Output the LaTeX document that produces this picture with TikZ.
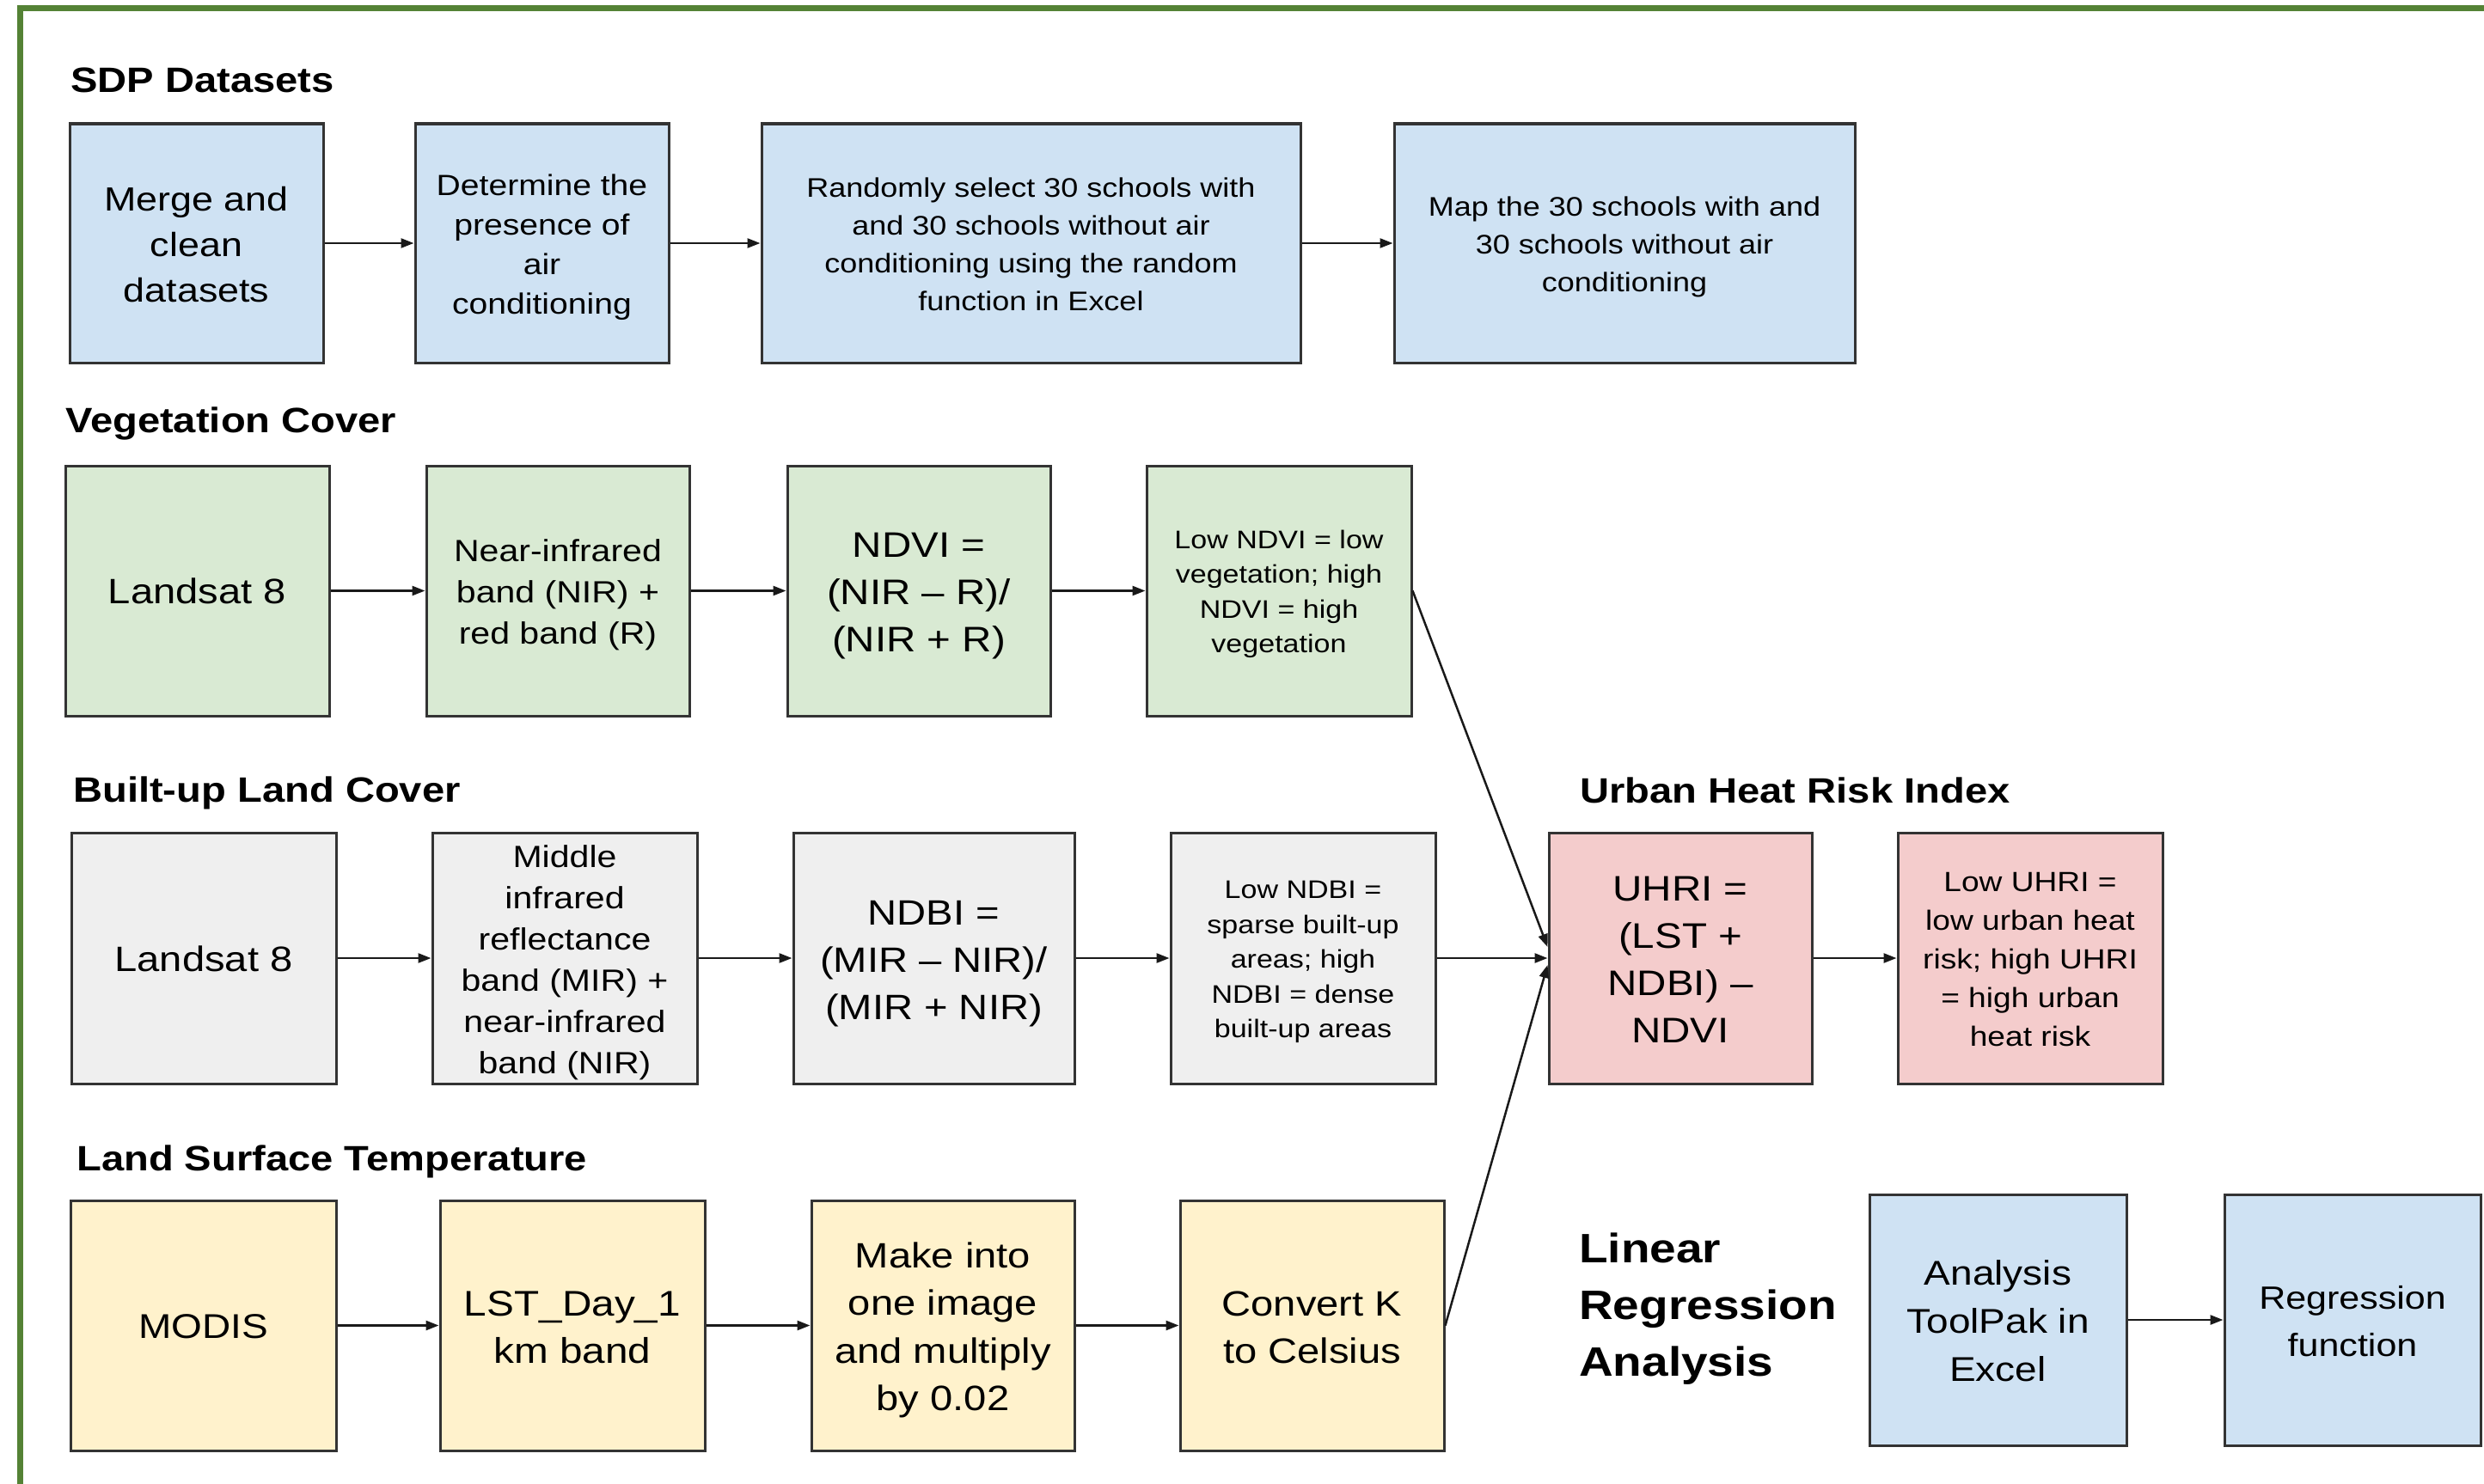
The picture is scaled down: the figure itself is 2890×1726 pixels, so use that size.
\documentclass[tikz,border=0pt]{standalone}
\usepackage{fontspec}
\setmainfont{Liberation Sans}
\newfontfamily\bodyf[FakeStretch=1.15]{Liberation Sans}
\usetikzlibrary{arrows.meta,calc}
\definecolor{frameg}{RGB}{84,130,53}
\definecolor{cblue}{HTML}{CFE2F3}
\definecolor{cgreen}{HTML}{D9EAD3}
\definecolor{cgray}{HTML}{EFEFEF}
\definecolor{cpink}{HTML}{F4CCCC}
\definecolor{cyellow}{HTML}{FFF2CC}
\definecolor{bord}{HTML}{333333}
\newcommand\setfs[2]{\fontsize{#1pt}{#2pt}\selectfont}
\newcommand\topst{\rule{0pt}{1.0em}}
\begin{document}
\begin{tikzpicture}[x=1pt,y=-1pt,
  box/.style={draw=bord, line width=3pt, inner sep=0pt, align=center,
    execute at begin node={\rule{0pt}{0.95em}},
    execute at end node={\rule[-0.212em]{0pt}{0.212em}}},
  sz/.style 2 args={font=\bodyf\setfs{#1}{#2}},
  arr/.style={-{Triangle[length=15pt,width=11pt]}, line width=2.5pt, draw=black!90},
  ttl/.style={font=\bodyf\bfseries\setfs{41}{49}, anchor=base west, inner sep=0pt},
  frame/.style={draw=frameg, line width=7pt, line join=miter}]
\useasboundingbox (0,0) rectangle (2890,1726);
\fill[white] (0,0) rectangle (2890,1726);
\draw[frame] (23.5,1800) -- (23.5,10) -- (2950,10);

% titles
\node[ttl] (t1) at (82,108) {SDP Datasets};
\node[ttl] (t2) at (76,503) {Vegetation Cover};
\node[ttl] (t3) at (85,933) {Built-up Land Cover};
\node[ttl] (t4) at (89,1362) {Land Surface Temperature};
\node[ttl] (t5) at (1838,934) {Urban Heat Risk Index};

% row 1
\node[box, fill=cblue, minimum width=295pt, minimum height=278pt, sz={39}{53}] (s1) at (228.5,283) {\topst Merge and\\clean\\datasets};
\node[box, fill=cblue, minimum width=295pt, minimum height=278pt, sz={34}{46}] (s2) at (630.5,283) {\topst Determine the\\presence of\\air\\conditioning};
\node[box, fill=cblue, minimum width=627pt, minimum height=278pt, sz={31.3}{44}] (s3) at (1199.5,283) {\topst Randomly select 30 schools with\\and 30 schools without air\\conditioning using the random\\function in Excel};
\node[box, fill=cblue, minimum width=536pt, minimum height=278pt, sz={31.3}{44}] (s4) at (1890,283) {\topst Map the 30 schools with and\\30 schools without air\\conditioning};

% row 2
\node[box, fill=cgreen, minimum width=307pt, minimum height=291pt, sz={41}{55}] (v1) at (229.5,687.5) {Landsat 8};
\node[box, fill=cgreen, minimum width=306pt, minimum height=291pt, sz={35.7}{48}] (v2) at (649,687.5) {\topst Near-infrared\\band (NIR) +\\red band (R)};
\node[box, fill=cgreen, minimum width=306pt, minimum height=291pt, sz={41.3}{55}] (v3) at (1069,687.5) {\topst NDVI =\\(NIR – R)/\\(NIR + R)};
\node[box, fill=cgreen, minimum width=308pt, minimum height=291pt, sz={29.6}{40.5}] (v4) at (1488,687.5) {\topst Low NDVI = low\\vegetation; high\\NDVI = high\\vegetation};

% row 3
\node[box, fill=cgray, minimum width=308pt, minimum height=292pt, sz={41}{55}] (b1) at (237,1115) {Landsat 8};
\node[box, fill=cgray, minimum width=308pt, minimum height=292pt, sz={35.7}{48}] (b2) at (657,1115) {\topst Middle\\infrared\\reflectance\\band (MIR) +\\near-infrared\\band (NIR)};
\node[box, fill=cgray, minimum width=327pt, minimum height=292pt, sz={41}{55}] (b3) at (1086.5,1115) {\topst NDBI =\\(MIR – NIR)/\\(MIR + NIR)};
\node[box, fill=cgray, minimum width=308pt, minimum height=292pt, sz={29.6}{40.5}] (b4) at (1516,1115) {\topst Low NDBI =\\sparse built-up\\areas; high\\NDBI = dense\\built-up areas};
\node[box, fill=cpink, minimum width=306pt, minimum height=292pt, sz={41.3}{55}] (u1) at (1955,1115) {\topst UHRI =\\(LST +\\NDBI) –\\NDVI};
\node[box, fill=cpink, minimum width=308pt, minimum height=292pt, sz={32.3}{45}] (u2) at (2362,1115) {\topst Low UHRI =\\low urban heat\\risk; high UHRI\\= high urban\\heat risk};

% row 4
\node[box, fill=cyellow, minimum width=309pt, minimum height=291pt, sz={40}{55}] (y1) at (236.5,1542.5) {MODIS};
\node[box, fill=cyellow, minimum width=308pt, minimum height=291pt, sz={41.5}{55}] (y2) at (666,1542.5) {\topst LST\_Day\_1\\km band};
\node[box, fill=cyellow, minimum width=306pt, minimum height=291pt, sz={41}{55.5}] (y3) at (1097,1542.5) {\topst Make into\\one image\\and multiply\\by 0.02};
\node[box, fill=cyellow, minimum width=307pt, minimum height=291pt, sz={41}{55}] (y4) at (1526.5,1542.5) {\topst Convert K\\to Celsius};

% linear regression
\node[font=\bodyf\bfseries\setfs{47.8}{66}, align=left, anchor=west, inner sep=0pt] (lra) at (1837,1523) {Linear\\Regression\\Analysis};
\node[box, fill=cblue, minimum width=299pt, minimum height=292pt, sz={40}{56}] (l1) at (2324.5,1536) {\topst Analysis\\ToolPak in\\Excel};
\node[box, fill=cblue, minimum width=298pt, minimum height=292pt, sz={37.4}{55}] (l2) at (2737,1536) {\topst Regression\\function};

% arrows
\draw[arr] (s1.east) -- (s2.west);
\draw[arr] (s2.east) -- (s3.west);
\draw[arr] (s3.east) -- (s4.west);
\draw[arr] (v1.east) -- (v2.west);
\draw[arr] (v2.east) -- (v3.west);
\draw[arr] (v3.east) -- (v4.west);
\draw[arr] (b1.east) -- (b2.west);
\draw[arr] (b2.east) -- (b3.west);
\draw[arr] (b3.east) -- (b4.west);
\draw[arr] (y1.east) -- (y2.west);
\draw[arr] (y2.east) -- (y3.west);
\draw[arr] (y3.east) -- (y4.west);
\draw[arr] (v4.east) -- ($(u1.west)+(0,-13)$);
\draw[arr] (b4.east) -- (u1.west);
\draw[arr] (y4.east) -- ($(u1.west)+(0,8)$);
\draw[arr] (u1.east) -- (u2.west);
\draw[arr] (l1.east) -- (l2.west);
\end{tikzpicture}
\end{document}
